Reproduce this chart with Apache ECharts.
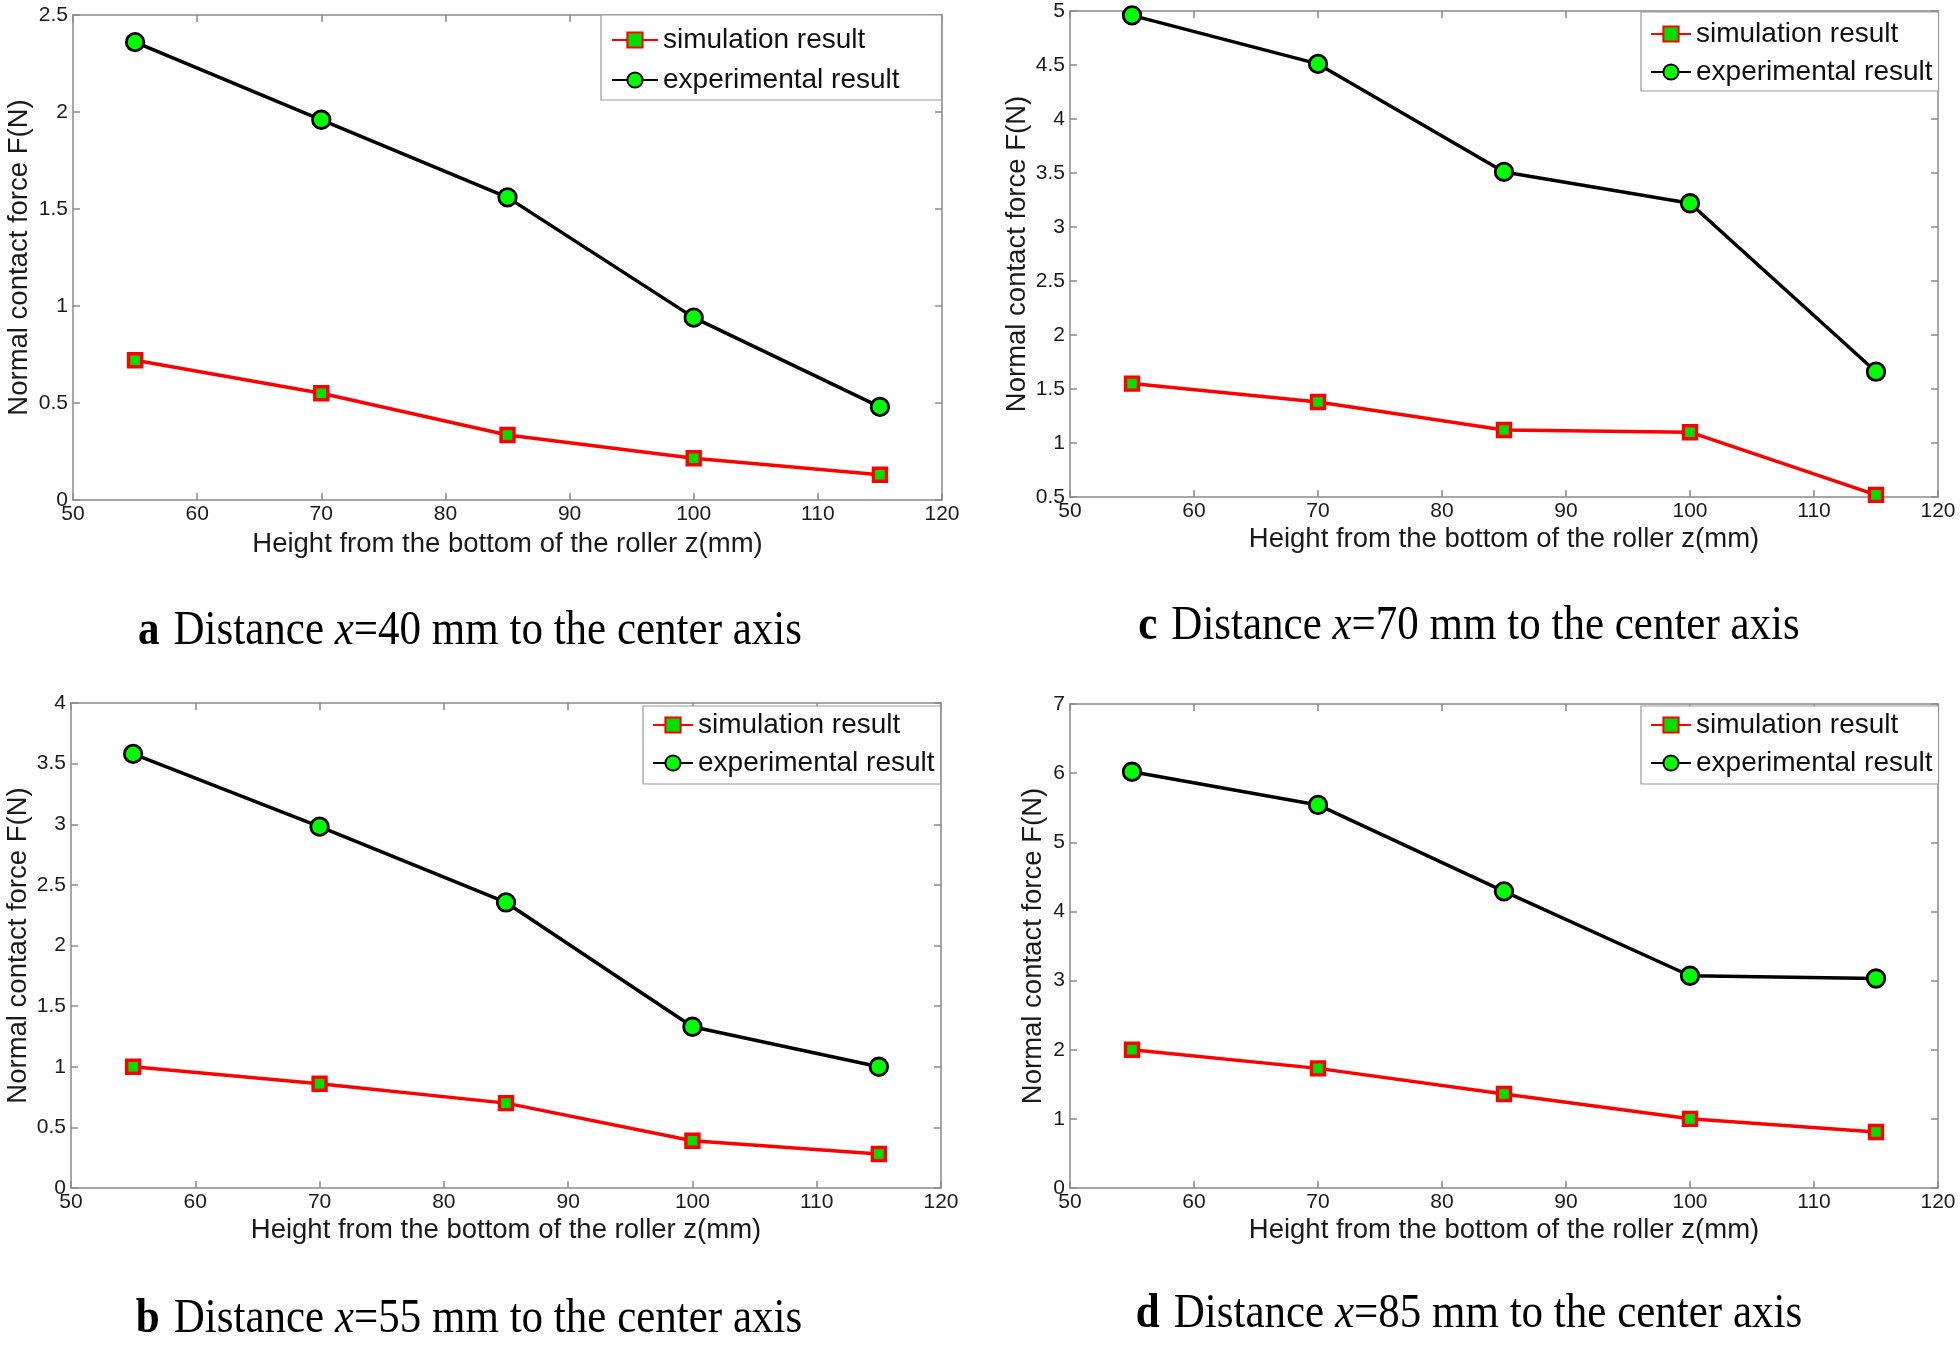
<!DOCTYPE html>
<html>
<head>
<meta charset="utf-8">
<script src="https://cdn.jsdelivr.net/npm/echarts@6/dist/echarts.min.js"></script>
<style>
html,body{margin:0;padding:0;background:#fff;}
#chart{width:1960px;height:1345px;}
</style>
</head>
<body>
<div id="chart"></div>
<script>
// ---- data ----
const xValues = [55, 70, 85, 100, 115];
const simA = [0.72, 0.55, 0.335, 0.215, 0.13];
const expA = [2.36, 1.96, 1.56, 0.94, 0.48];
const simB = [1.0, 0.86, 0.70, 0.39, 0.28];
const expB = [3.58, 2.98, 2.355, 1.33, 1.0];
const simC = [1.55, 1.38, 1.12, 1.10, 0.52];
const expC = [4.96, 4.51, 3.51, 3.22, 1.66];
const simD = [2.0, 1.73, 1.36, 1.0, 0.81];
const expD = [6.02, 5.54, 4.29, 3.07, 3.03];
const xRange = [50, 120, 10];
const yRangeA = [0, 2.5, 0.5];
const yRangeB = [0, 4, 0.5];
const yRangeC = [0.5, 5, 0.5];
const yRangeD = [0, 7, 1];
const seriesNames = ['simulation result', 'experimental result'];
const xName = 'Height from the bottom of the roller z(mm)';
const yName = 'Normal contact force F(N)';
const captionLetters = ['a', 'c', 'b', 'd'];
const captionDistances = ['40', '70', '55', '85'];

// ---- layout ----
const panels = [
  {grid:{left:73, top:15, width:869, height:485}, y:yRangeA, sim:simA, exp:expA, yGap:40, xGap:30,
   legend:{left:601, top:15, padding:[11,42,6,10], itemWidth:46, lh:28, gap:12},
   cap:[470, 631]},
  {grid:{left:1070, top:11, width:868, height:486}, y:yRangeC, sim:simC, exp:expC, yGap:39, xGap:28,
   legend:{left:1641, top:12, padding:[8,6,5,9], itemWidth:40, lh:26, gap:10},
   cap:[1469, 626]},
  {grid:{left:71, top:703, width:870, height:485}, y:yRangeB, sim:simB, exp:expB, yGap:39, xGap:28,
   legend:{left:643, top:706, padding:[5,6,7,9], itemWidth:40, lh:26, gap:10},
   cap:[469, 1319]},
  {grid:{left:1070, top:704, width:868, height:484}, y:yRangeD, sim:simD, exp:expD, yGap:23, xGap:28,
   legend:{left:1641, top:706, padding:[5,6,7,9], itemWidth:40, lh:26, gap:10},
   cap:[1469, 1314]}
];

const axisColor = '#8a8a8a';
const labelFont = {color:'#1a1a1a', fontSize:21, fontFamily:'"Liberation Sans", Arial, sans-serif'};
const nameFont = {color:'#1a1a1a', fontSize:27.5, fontFamily:'"Liberation Sans", Arial, sans-serif'};

const grid = [], xAxis = [], yAxis = [], series = [], legend = [], graphic = [];
panels.forEach((p, i) => {
  grid.push(Object.assign({containLabel:false}, p.grid));
  const common = {
    axisLine:{show:true, onZero:false, lineStyle:{color:axisColor, width:1.5}},
    axisTick:{show:true, inside:true, length:7, lineStyle:{color:axisColor, width:1.5}},
    splitLine:{show:false}
  };
  xAxis.push(Object.assign({}, common, {
    type:'value', gridIndex:i, position:'bottom', min:xRange[0], max:xRange[1], interval:xRange[2],
    axisLabel:Object.assign({margin:4}, labelFont),
    name:xName, nameLocation:'middle', nameGap:p.xGap, nameTextStyle:nameFont
  }));
  xAxis.push(Object.assign({}, common, {
    type:'value', gridIndex:i, position:'top', min:xRange[0], max:xRange[1], interval:xRange[2],
    axisLabel:{show:false}
  }));
  yAxis.push(Object.assign({}, common, {
    type:'value', gridIndex:i, position:'left', min:p.y[0], max:p.y[1], interval:p.y[2],
    axisLabel:Object.assign({margin:5}, labelFont),
    name:yName, nameLocation:'middle', nameGap:p.yGap, nameTextStyle:nameFont
  }));
  yAxis.push(Object.assign({}, common, {
    type:'value', gridIndex:i, position:'right', min:p.y[0], max:p.y[1], interval:p.y[2],
    axisLabel:{show:false}
  }));
  series.push({
    name:seriesNames[0], type:'line', xAxisIndex:2*i, yAxisIndex:2*i,
    data:xValues.map((x, k) => [x, p.sim[k]]),
    symbol:'rect', symbolSize:13,
    lineStyle:{color:'#ff0000', width:3.5},
    itemStyle:{color:'#00e000', borderColor:'#ff0000', borderWidth:3.4},
    emphasis:{disabled:true}, animation:false
  });
  series.push({
    name:seriesNames[1], type:'line', xAxisIndex:2*i, yAxisIndex:2*i,
    data:xValues.map((x, k) => [x, p.exp[k]]),
    symbol:'circle', symbolSize:17.5,
    lineStyle:{color:'#000000', width:3.5},
    itemStyle:{color:'#00ff00', borderColor:'#000000', borderWidth:2.8},
    emphasis:{disabled:true}, animation:false
  });
  legend.push({
    data:seriesNames, orient:'vertical', left:p.legend.left, top:p.legend.top,
    padding:p.legend.padding, itemGap:p.legend.gap, itemWidth:p.legend.itemWidth, itemHeight:19,
    backgroundColor:'#ffffff', borderColor:'#999999', borderWidth:1.2, selectedMode:false,
    textStyle:{color:'#111', fontSize:28, lineHeight:p.legend.lh, fontFamily:'"Liberation Sans", Arial, sans-serif', padding:[0,0,0,0]}
  });
  graphic.push({
    type:'text', x:p.cap[0], y:p.cap[1], scaleY:1.14,
    style:{
      text:'{b|' + captionLetters[i] + '}Distance {i|x}=' + captionDistances[i] + ' mm to the center axis',
      align:'center', verticalAlign:'middle',
      font:'43px "Liberation Serif", "Times New Roman", serif', fill:'#000',
      rich:{
        b:{fontWeight:'bold', fontSize:43, fontFamily:'"Liberation Serif", "Times New Roman", serif', fill:'#000', padding:[0,14,0,0]},
        i:{fontStyle:'italic', fontSize:43, fontFamily:'"Liberation Serif", "Times New Roman", serif', fill:'#000'}
      }
    }
  });
});

const chart = echarts.init(document.getElementById('chart'), null, {renderer:'canvas'});
chart.setOption({
  backgroundColor:'#ffffff',
  animation:false,
  grid, xAxis, yAxis, series, legend, graphic
});
</script>
</body>
</html>
